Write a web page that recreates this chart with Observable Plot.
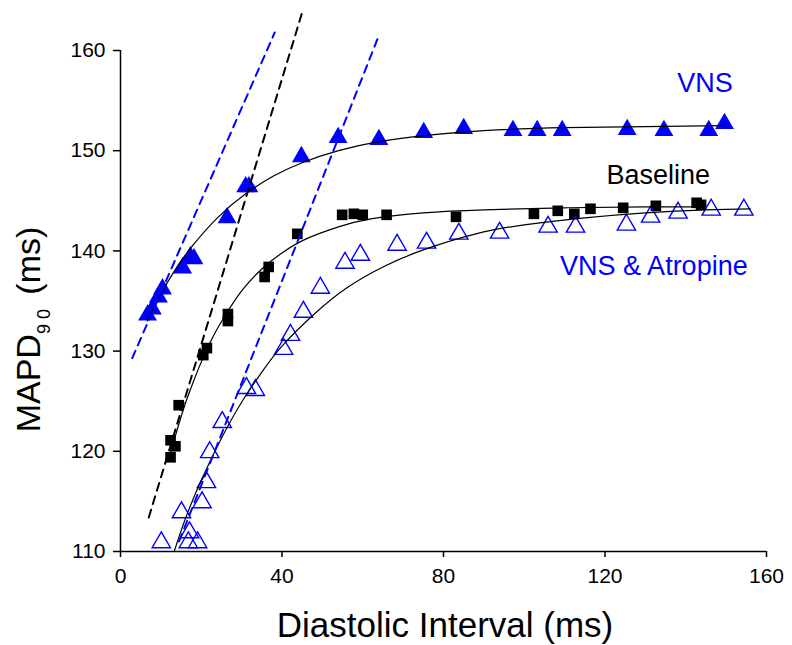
<!DOCTYPE html>
<html>
<head>
<meta charset="utf-8">
<script src="https://cdn.jsdelivr.net/npm/d3@7"></script>
<script src="https://cdn.jsdelivr.net/npm/@observablehq/plot@0.6"></script>
<style>
  html, body { margin: 0; padding: 0; background: #ffffff; }
  #chart svg { display: block; }
</style>
</head>
<body>
<div id="chart"></div>
<script>
// ---- Data ----
// VNS (filled blue triangles)
const vnsX = [6.7, 7.9, 9.4, 10.4, 15.4, 17.3, 18.2, 26.4, 31.0, 31.8, 44.8, 53.9, 64.0, 75.1, 85.0, 97.2, 103.2, 109.4, 125.5, 134.6, 145.7, 149.6];
const vnsY = [133.6, 134.2, 135.4, 136.2, 138.3, 139.4, 139.2, 143.3, 146.4, 146.4, 149.4, 151.3, 151.1, 151.8, 152.2, 152.0, 152.0, 152.0, 152.1, 152.0, 152.0, 152.7];
// Baseline (filled black squares)
const baseX = [12.4, 12.4, 13.6, 14.4, 20.5, 21.4, 26.6, 26.6, 35.7, 36.7, 43.8, 54.9, 57.8, 60.0, 65.9, 83.1, 102.4, 108.3, 112.4, 116.4, 124.5, 132.6, 142.7, 143.8];
const baseY = [119.4, 121.1, 120.5, 124.6, 129.6, 130.3, 133.0, 133.7, 137.4, 138.4, 141.7, 143.6, 143.7, 143.6, 143.6, 143.4, 143.7, 144.0, 143.7, 144.2, 144.3, 144.5, 144.8, 144.6];
// VNS & Atropine (open blue triangles)
const atroX = [10.1, 15.1, 16.8, 17.1, 19.1, 20.2, 21.3, 22.1, 25.2, 31.2, 33.4, 40.4, 42.1, 45.3, 49.5, 55.6, 59.4, 68.5, 75.8, 83.8, 93.9, 105.9, 112.7, 125.3, 131.3, 138.1, 146.3, 154.4];
const atroY = [110.9, 113.9, 110.9, 111.9, 110.9, 114.9, 116.9, 119.9, 122.9, 126.3, 126.1, 130.2, 131.6, 133.9, 136.3, 138.8, 139.6, 140.6, 140.8, 141.7, 141.8, 142.4, 142.4, 142.6, 143.4, 143.8, 144.1, 144.1];

// Fitted curves
const vnsFitX = [6.6, 10, 14, 18, 24, 31, 38, 45, 54, 64, 75, 90, 110, 130, 149.5];
const vnsFitY = [133.0, 135.7, 138.4, 140.6, 143.3, 145.7, 147.5, 148.8, 150.0, 150.9, 151.5, 152.0, 152.3, 152.4, 152.5];
const baseFitX = [12.4, 14, 16, 18, 20, 23, 26, 30, 35, 40, 46, 54, 62, 75, 90, 110, 130, 144];
const baseFitY = [119.9, 122.1, 124.7, 126.9, 128.9, 131.5, 133.6, 136.0, 138.2, 139.8, 141.2, 142.4, 143.2, 143.8, 144.1, 144.3, 144.4, 144.4];
const atroFitX = [13.3, 16, 20, 25, 30, 35, 40, 48, 56, 65, 75, 88, 100, 115, 130, 145, 156];
const atroFitY = [110.0, 113.2, 117.1, 121.3, 124.9, 127.9, 130.5, 133.7, 136.3, 138.4, 140.1, 141.7, 142.6, 143.3, 143.8, 144.1, 144.2];

// Dashed straight lines (end points)
const dashBlackX = [7.0, 45.0];
const dashBlackY = [113.4, 163.8];
const dashBlueLeftX = [2.9, 38.2];
const dashBlueLeftY = [129.3, 161.8];
const dashBlueRightX = [14.5, 64.0];
const dashBlueRightY = [111.0, 161.5];

// Axis ticks and labels
const xTicks = [0, 40, 80, 120, 160];
const yTicks = [110, 120, 130, 140, 150, 160];
const xLabel = "Diastolic Interval (ms)";
const yLabelMain = "MAPD";
const yLabelSub = "90";
const yLabelTail = " (ms)";
const seriesLabels = [
  {text: "VNS", x: 138.0, y: 155.8, color: "#0000ff"},
  {text: "Baseline", x: 120.5, y: 146.6, color: "#000000"},
  {text: "VNS & Atropine", x: 109.0, y: 137.5, color: "#0000ff"}
];

// ---- Build tables ----
const zip = (xs, ys) => xs.map((x, i) => ({x, y: ys[i]}));
const vns = zip(vnsX, vnsY);
const base = zip(baseX, baseY);
const atro = zip(atroX, atroY);
const vnsFit = zip(vnsFitX, vnsFitY);
const baseFit = zip(baseFitX, baseFitY);
const atroFit = zip(atroFitX, atroFitY);
const dashBlack = zip(dashBlackX, dashBlackY);
const dashBlueL = zip(dashBlueLeftX, dashBlueLeftY);
const dashBlueR = zip(dashBlueRightX, dashBlueRightY);

const FONT = "'Liberation Sans', Arial, Helvetica, sans-serif";
const BLUE = "#0000ff";

const chart = Plot.plot({
  width: 792,
  height: 645,
  marginLeft: 120,
  marginRight: 26,
  marginTop: 50,
  marginBottom: 94,
  style: {fontFamily: FONT, background: "#ffffff", color: "#000000", overflow: "visible"},
  x: {domain: [0, 160]},
  y: {domain: [110, 160]},
  marks: [
    Plot.axisX({ticks: xTicks, tickSize: 6, tickPadding: 11, fontSize: 21, label: null, strokeWidth: 1.5, tickFormat: d => String(d)}),
    Plot.axisY({ticks: yTicks, tickSize: 7, tickPadding: 8, fontSize: 21, label: null, strokeWidth: 1.5, tickFormat: d => String(d)}),
    Plot.ruleX([0], {stroke: "#000", strokeWidth: 1.5}),
    Plot.ruleY([110], {stroke: "#000", strokeWidth: 1.5}),
    // markers
    Plot.dot(base, {x: "x", y: "y", symbol: "square", r: 6, fill: "#000000"}),
    Plot.dot(vns, {x: "x", y: "y", symbol: "triangle", r: 7, fill: BLUE}),
    Plot.dot(atro, {x: "x", y: "y", symbol: "triangle", r: 6.8, fill: "none", stroke: BLUE, strokeWidth: 1.4}),
    // fitted curves
    Plot.line(vnsFit, {x: "x", y: "y", curve: "natural", stroke: "#000", strokeWidth: 1.2}),
    Plot.line(baseFit, {x: "x", y: "y", curve: "natural", stroke: "#000", strokeWidth: 1.2}),
    Plot.line(atroFit, {x: "x", y: "y", curve: "natural", stroke: "#000", strokeWidth: 1.2}),
    // dashed lines
    Plot.line(dashBlack, {x: "x", y: "y", stroke: "#000", strokeWidth: 2, strokeDasharray: "8,6"}),
    Plot.line(dashBlueL, {x: "x", y: "y", stroke: BLUE, strokeWidth: 2, strokeDasharray: "8,6"}),
    Plot.line(dashBlueR, {x: "x", y: "y", stroke: BLUE, strokeWidth: 2, strokeDasharray: "8,6"})
  ]
});

document.getElementById("chart").appendChild(chart);

const sx = chart.scale("x");
const sy = chart.scale("y");
const svg = d3.select(chart);

// series labels
for (const s of seriesLabels) {
  svg.append("text")
    .attr("x", sx.apply(s.x))
    .attr("y", sy.apply(s.y))
    .attr("fill", s.color)
    .attr("font-family", FONT)
    .attr("font-size", 27)
    .attr("text-anchor", "start")
    .text(s.text);
}

// x axis title
svg.append("text")
  .attr("x", (sx.apply(0) + sx.apply(160)) / 2 + 2)
  .attr("y", 637)
  .attr("font-family", FONT)
  .attr("font-size", 35)
  .attr("text-anchor", "middle")
  .attr("fill", "#000")
  .text(xLabel);

// y axis title with subscript
const yt = svg.append("text")
  .attr("transform", `translate(40, ${(sy.apply(110) + sy.apply(160)) / 2 + 29}) rotate(-90)`)
  .attr("font-family", FONT)
  .attr("font-size", 34)
  .attr("text-anchor", "middle")
  .attr("fill", "#000");
yt.append("tspan").text(yLabelMain);
yt.append("tspan").attr("font-size", 18).attr("dy", 10).attr("letter-spacing", 5).text(yLabelSub);
yt.append("tspan").attr("dy", -10).text(yLabelTail);
</script>
</body>
</html>
